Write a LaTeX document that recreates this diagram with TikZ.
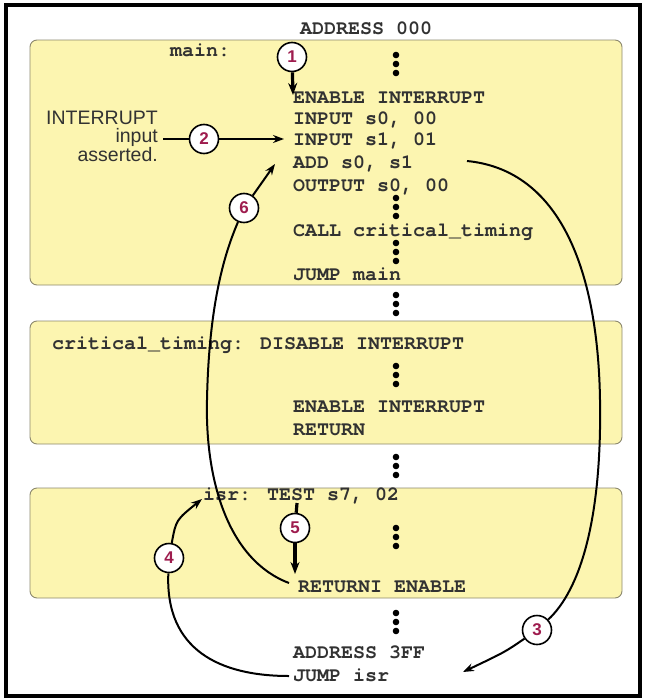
\documentclass[tikz,border=0pt]{standalone}
\usepackage{fontspec}
\setmainfont{Liberation Sans}
\newfontfamily\codefont{texgyrecursor-bold.otf}
\usetikzlibrary{arrows.meta, positioning, calc}

\definecolor{memfill}{RGB}{252,245,176}
\definecolor{blockedge}{RGB}{140,136,110}
\definecolor{codegray}{RGB}{50,50,50}
\definecolor{numred}{RGB}{158,28,78}

\begin{document}
\begin{tikzpicture}[x=1pt, y=-1pt,
    code/.style={anchor=base west, inner sep=0pt, text=codegray, font=\fontsize{20}{22}\selectfont\codefont},
    memblock/.style={draw=blockedge, fill=memfill, line width=0.9pt, rounded corners=7pt},
    stepnum/.style={circle, draw, fill=white, line width=1.6pt, minimum size=29pt, inner sep=0pt, text=numred, font=\fontsize{17}{17}\selectfont\bfseries},
    flow/.style={line width=2pt, -{Stealth[length=11pt, width=8pt]}},
    heavy/.style={line width=3.2pt, -{Stealth[length=12pt, width=9pt]}},
    plain/.style={line width=2pt}]
    \useasboundingbox (0,0) rectangle (646,699);
    \draw[line width=3.5pt] (6,5) rectangle (640,696);

    % memory blocks
    \draw[memblock] (30,40) rectangle (622,285);
    \draw[memblock] (30,321) rectangle (622,444);
    \draw[memblock] (30,488) rectangle (622,598);

    % vertical ellipses
    \foreach \y in {55,198,243,295,366,457,528,613}
        \foreach \k in {0,1,2}
            \fill (396,\y+9*\k) circle (3.3pt);

    % program text
    \node[code] (addr0) at (300,34) {ADDRESS 000};
    \node[code] (mainlbl) at (170,56) {main:};
    \node[code] (en1) at (293,103) {ENABLE INTERRUPT};
    \node[code] (in0) at (293,124) {INPUT s0, 00};
    \node[code] (in1) at (293,145) {INPUT s1, 01};
    \node[code] (add) at (293,168) {ADD s0, s1};
    \node[code] (out) at (293,191) {OUTPUT s0, 00};
    \node[code] (call) at (293,236) {CALL critical\_timing};
    \node[code] (jmain) at (293,280) {JUMP main};
    \node[code] (crit) at (52,349) {critical\_timing: DISABLE INTERRUPT};
    \node[code] (en2) at (293,412) {ENABLE INTERRUPT};
    \node[code] (ret) at (293,435) {RETURN};
    \node[code] (isr) at (203,500) {isr: TEST s7, 02};
    \node[code] (reti) at (298,592) {RETURNI ENABLE};
    \node[code] (addr3) at (293,658) {ADDRESS 3FF};
    \node[code] (jisr) at (293,681) {JUMP isr};

    \node[anchor=north east, inner sep=0pt, align=right, text=codegray,
          font=\fontsize{19.5}{17.8}\selectfont] (intr) at (158,111) {INTERRUPT\\input\\asserted.};

    % numbered steps
    \node[stepnum] (c1) at (292,57) {1};
    \node[stepnum] (c2) at (204,139) {2};
    \node[stepnum] (c3) at (537,630) {3};
    \node[stepnum] (c4) at (169,558) {4};
    \node[stepnum] (c5) at (295,528) {5};
    \node[stepnum] (c6) at (244,208) {6};

    \coordinate (t1) at (293,95);
    \coordinate (s2) at (163,139);
    \coordinate (t2) at (284,139);
    \coordinate (s3) at (467,161);
    \coordinate (t3) at (463,672);
    \coordinate (t4) at (202,499);
    \coordinate (s4) at (289,676);
    \coordinate (s5) at (297,503);
    \coordinate (t5) at (295,574);
    \coordinate (s6) at (289,583);
    \coordinate (t6) at (275,164);

    % control flow
    \draw[heavy] (c1) -- (t1);
    \draw[plain] (s2) -- (c2);
    \draw[flow] (c2) -- (t2);
    \draw[plain] (s3) .. controls (560,170) and (598,270) .. (600,400)
                      .. controls (602,520) and (580,590) .. (c3);
    \draw[flow] (c3) .. controls (505,652) .. (t3);
    \draw[plain] (s4) .. controls (220,676) and (165,650) .. (c4);
    \draw[flow] (c4) .. controls (176,520) .. (t4);
    \draw[line width=3.2pt] (s5) -- (c5);
    \draw[heavy] (c5) -- (t5);
    \draw[plain] (s6) .. controls (228,560) and (205,480) .. (207,400)
                      .. controls (209,300) and (226,250) .. (c6);
    \draw[flow] (c6) -- (t6);
\end{tikzpicture}
\end{document}
